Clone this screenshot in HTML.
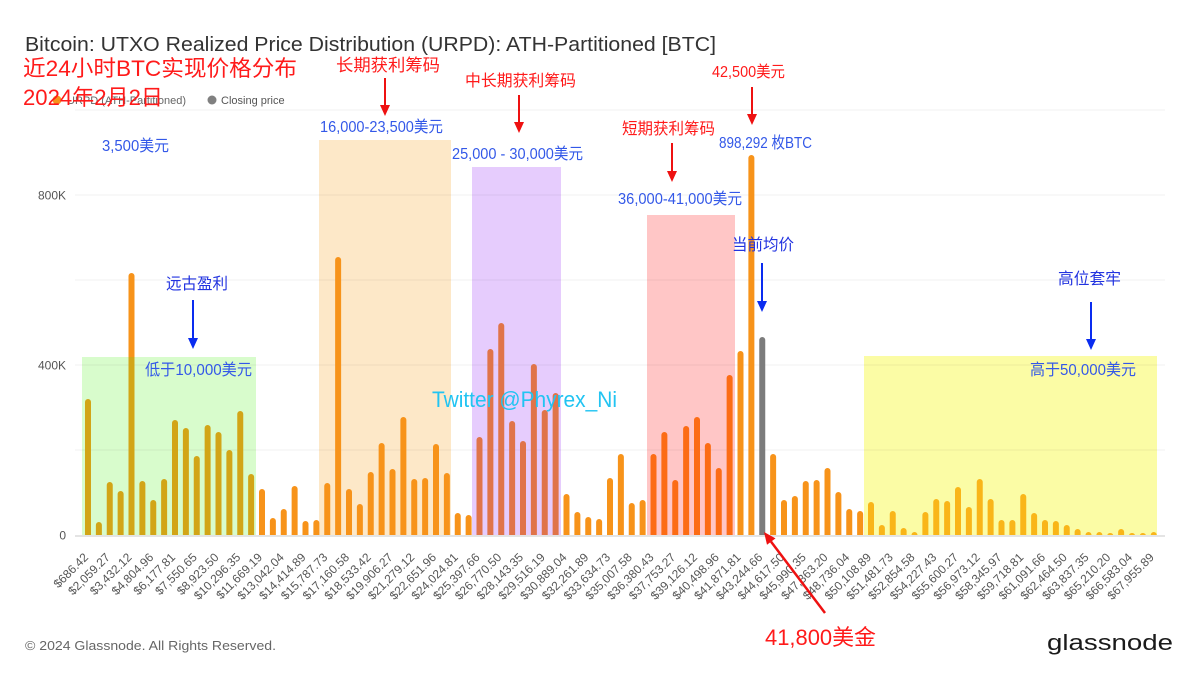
<!DOCTYPE html>
<html><head><meta charset="utf-8"><style>
html,body{margin:0;padding:0;background:#fff;}
svg{display:block;}
.ax{font-family:"Liberation Sans",sans-serif;font-size:12px;fill:#555;}
.cn{font-family:"Liberation Sans","Noto Sans CJK SC",sans-serif;}
</style></head><body>
<svg width="1199" height="675" viewBox="0 0 1199 675" xmlns="http://www.w3.org/2000/svg">
<defs><clipPath id="c"><rect x="0" y="0" width="1199" height="535"/></clipPath></defs>
<rect width="1199" height="675" fill="#fff"/>
<!-- title -->
<text x="25" y="51" font-family="Liberation Sans, sans-serif" font-size="20.5" fill="#333" textLength="691" lengthAdjust="spacingAndGlyphs">Bitcoin: UTXO Realized Price Distribution (URPD): ATH-Partitioned [BTC]</text>
<!-- legend -->
<circle cx="57" cy="100" r="4.5" fill="#f7931a"/>
<text x="67" y="104" font-family="Liberation Sans, sans-serif" font-size="11" fill="#666">URPD (ATH-Partitioned)</text>
<circle cx="212" cy="100" r="4.5" fill="#808080"/>
<text x="221" y="104" font-family="Liberation Sans, sans-serif" font-size="11" fill="#555">Closing price</text>
<!-- region backgrounds -->
<rect x="82" y="357" width="174" height="178" fill="#d8fccc"/>
<rect x="319" y="140" width="132" height="395" fill="#fde8c8"/>
<rect x="472" y="167" width="89" height="368" fill="#e6ccfd"/>
<rect x="647" y="215" width="88" height="320" fill="#ffc6c6"/>
<rect x="864" y="356" width="293" height="179" fill="#fbfca5"/>
<!-- grid -->
<g stroke="#000" stroke-opacity="0.06" stroke-width="1">
<line x1="75" y1="110" x2="1165" y2="110"/>
<line x1="75" y1="195" x2="1165" y2="195"/>
<line x1="75" y1="280" x2="1165" y2="280"/>
<line x1="75" y1="365" x2="1165" y2="365"/>
<line x1="75" y1="450" x2="1165" y2="450"/>
</g>
<line x1="75" y1="536" x2="1165" y2="536" stroke="#e4e4e4" stroke-width="2"/>
<!-- y labels -->
<text class="ax" x="66" y="199.5" text-anchor="end">800K</text>
<text class="ax" x="66" y="369.5" text-anchor="end">400K</text>
<text class="ax" x="66" y="539.5" text-anchor="end">0</text>
<!-- bars -->
<g clip-path="url(#c)">
<g fill="#d2a517">
<rect x="85" y="399" width="6" height="139" rx="3"/>
<rect x="95.875" y="522" width="6" height="16" rx="3"/>
<rect x="106.75" y="482" width="6" height="56" rx="3"/>
<rect x="117.625" y="491" width="6" height="47" rx="3"/>
<rect x="139.375" y="481" width="6" height="57" rx="3"/>
<rect x="150.25" y="500" width="6" height="38" rx="3"/>
<rect x="161.125" y="479" width="6" height="59" rx="3"/>
<rect x="172" y="420" width="6" height="118" rx="3"/>
<rect x="182.875" y="428" width="6" height="110" rx="3"/>
<rect x="193.75" y="456" width="6" height="82" rx="3"/>
<rect x="204.625" y="425" width="6" height="113" rx="3"/>
<rect x="215.5" y="432" width="6" height="106" rx="3"/>
<rect x="226.375" y="450" width="6" height="88" rx="3"/>
<rect x="237.25" y="411" width="6" height="127" rx="3"/>
<rect x="248.125" y="474" width="6" height="64" rx="3"/>
</g>
<rect x="128.5" y="273" width="6" height="265" rx="3" fill="#f7931a"/>
<rect x="128.5" y="357" width="6" height="181" fill="#d2a517"/>
<g fill="#f7931a">
<rect x="259" y="489" width="6" height="49" rx="3"/>
<rect x="269.875" y="518" width="6" height="20" rx="3"/>
<rect x="280.75" y="509" width="6" height="29" rx="3"/>
<rect x="291.625" y="486" width="6" height="52" rx="3"/>
<rect x="302.5" y="521" width="6" height="17" rx="3"/>
<rect x="313.375" y="520" width="6" height="18" rx="3"/>
<rect x="324.25" y="483" width="6" height="55" rx="3"/>
<rect x="335.125" y="257" width="6" height="281" rx="3"/>
<rect x="346" y="489" width="6" height="49" rx="3"/>
<rect x="356.875" y="504" width="6" height="34" rx="3"/>
<rect x="367.75" y="472" width="6" height="66" rx="3"/>
<rect x="378.625" y="443" width="6" height="95" rx="3"/>
<rect x="389.5" y="469" width="6" height="69" rx="3"/>
<rect x="400.375" y="417" width="6" height="121" rx="3"/>
<rect x="411.25" y="479" width="6" height="59" rx="3"/>
<rect x="422.125" y="478" width="6" height="60" rx="3"/>
<rect x="433" y="444" width="6" height="94" rx="3"/>
<rect x="443.875" y="473" width="6" height="65" rx="3"/>
<rect x="454.75" y="513" width="6" height="25" rx="3"/>
<rect x="465.625" y="515" width="6" height="23" rx="3"/>
<rect x="563.5" y="494" width="6" height="44" rx="3"/>
<rect x="574.375" y="512" width="6" height="26" rx="3"/>
<rect x="585.25" y="517" width="6" height="21" rx="3"/>
<rect x="596.125" y="519" width="6" height="19" rx="3"/>
<rect x="607" y="478" width="6" height="60" rx="3"/>
<rect x="617.875" y="454" width="6" height="84" rx="3"/>
<rect x="628.75" y="503" width="6" height="35" rx="3"/>
<rect x="639.625" y="500" width="6" height="38" rx="3"/>
<rect x="737.5" y="351" width="6" height="187" rx="3"/>
<rect x="748.375" y="155" width="6" height="383" rx="3"/>
<rect x="770.125" y="454" width="6" height="84" rx="3"/>
<rect x="781" y="500" width="6" height="38" rx="3"/>
<rect x="791.875" y="496" width="6" height="42" rx="3"/>
<rect x="802.75" y="481" width="6" height="57" rx="3"/>
<rect x="813.625" y="480" width="6" height="58" rx="3"/>
<rect x="824.5" y="468" width="6" height="70" rx="3"/>
<rect x="835.375" y="492" width="6" height="46" rx="3"/>
<rect x="846.25" y="509" width="6" height="29" rx="3"/>
<rect x="857.125" y="511" width="6" height="27" rx="3"/>
</g>
<g fill="#e0744a">
<rect x="476.5" y="437" width="6" height="101" rx="3"/>
<rect x="487.375" y="349" width="6" height="189" rx="3"/>
<rect x="498.25" y="323" width="6" height="215" rx="3"/>
<rect x="509.125" y="421" width="6" height="117" rx="3"/>
<rect x="520" y="441" width="6" height="97" rx="3"/>
<rect x="530.875" y="364" width="6" height="174" rx="3"/>
<rect x="541.75" y="410" width="6" height="128" rx="3"/>
<rect x="552.625" y="393" width="6" height="145" rx="3"/>
</g>
<g fill="#fc6c15">
<rect x="650.5" y="454" width="6" height="84" rx="3"/>
<rect x="661.375" y="432" width="6" height="106" rx="3"/>
<rect x="672.25" y="480" width="6" height="58" rx="3"/>
<rect x="683.125" y="426" width="6" height="112" rx="3"/>
<rect x="694" y="417" width="6" height="121" rx="3"/>
<rect x="704.875" y="443" width="6" height="95" rx="3"/>
<rect x="715.75" y="468" width="6" height="70" rx="3"/>
<rect x="726.625" y="375" width="6" height="163" rx="3"/>
</g>
<rect x="759.25" y="337" width="6" height="201" rx="3" fill="#7c7c7c"/>
<g fill="#f9b519">
<rect x="868" y="502" width="6" height="36" rx="3"/>
<rect x="878.875" y="525" width="6" height="13" rx="3"/>
<rect x="889.75" y="511" width="6" height="27" rx="3"/>
<rect x="900.625" y="528" width="6" height="10" rx="3"/>
<rect x="911.5" y="532" width="6" height="6" rx="3"/>
<rect x="922.375" y="512" width="6" height="26" rx="3"/>
<rect x="933.25" y="499" width="6" height="39" rx="3"/>
<rect x="944.125" y="501" width="6" height="37" rx="3"/>
<rect x="955" y="487" width="6" height="51" rx="3"/>
<rect x="965.875" y="507" width="6" height="31" rx="3"/>
<rect x="976.75" y="479" width="6" height="59" rx="3"/>
<rect x="987.625" y="499" width="6" height="39" rx="3"/>
<rect x="998.5" y="520" width="6" height="18" rx="3"/>
<rect x="1009.375" y="520" width="6" height="18" rx="3"/>
<rect x="1020.25" y="494" width="6" height="44" rx="3"/>
<rect x="1031.125" y="513" width="6" height="25" rx="3"/>
<rect x="1042" y="520" width="6" height="18" rx="3"/>
<rect x="1052.875" y="521" width="6" height="17" rx="3"/>
<rect x="1063.75" y="525" width="6" height="13" rx="3"/>
<rect x="1074.625" y="529" width="6" height="9" rx="3"/>
<rect x="1085.5" y="532" width="6" height="6" rx="3"/>
<rect x="1096.375" y="532" width="6" height="6" rx="3"/>
<rect x="1107.25" y="533" width="6" height="5" rx="3"/>
<rect x="1118.125" y="529" width="6" height="9" rx="3"/>
<rect x="1129" y="533" width="6" height="5" rx="3"/>
<rect x="1139.875" y="533" width="6" height="5" rx="3"/>
<rect x="1150.75" y="532" width="6" height="6" rx="3"/>
</g>
</g>
<!-- x labels -->
<g class="ax" text-anchor="end">
<text transform="translate(89,558) rotate(-45)">$686.42</text>
<text transform="translate(110.75,558) rotate(-45)">$2,059.27</text>
<text transform="translate(132.5,558) rotate(-45)">$3,432.12</text>
<text transform="translate(154.25,558) rotate(-45)">$4,804.96</text>
<text transform="translate(176,558) rotate(-45)">$6,177.81</text>
<text transform="translate(197.75,558) rotate(-45)">$7,550.65</text>
<text transform="translate(219.5,558) rotate(-45)">$8,923.50</text>
<text transform="translate(241.25,558) rotate(-45)">$10,296.35</text>
<text transform="translate(263,558) rotate(-45)">$11,669.19</text>
<text transform="translate(284.75,558) rotate(-45)">$13,042.04</text>
<text transform="translate(306.5,558) rotate(-45)">$14,414.89</text>
<text transform="translate(328.25,558) rotate(-45)">$15,787.73</text>
<text transform="translate(350,558) rotate(-45)">$17,160.58</text>
<text transform="translate(371.75,558) rotate(-45)">$18,533.42</text>
<text transform="translate(393.5,558) rotate(-45)">$19,906.27</text>
<text transform="translate(415.25,558) rotate(-45)">$21,279.12</text>
<text transform="translate(437,558) rotate(-45)">$22,651.96</text>
<text transform="translate(458.75,558) rotate(-45)">$24,024.81</text>
<text transform="translate(480.5,558) rotate(-45)">$25,397.66</text>
<text transform="translate(502.25,558) rotate(-45)">$26,770.50</text>
<text transform="translate(524,558) rotate(-45)">$28,143.35</text>
<text transform="translate(545.75,558) rotate(-45)">$29,516.19</text>
<text transform="translate(567.5,558) rotate(-45)">$30,889.04</text>
<text transform="translate(589.25,558) rotate(-45)">$32,261.89</text>
<text transform="translate(611,558) rotate(-45)">$33,634.73</text>
<text transform="translate(632.75,558) rotate(-45)">$35,007.58</text>
<text transform="translate(654.5,558) rotate(-45)">$36,380.43</text>
<text transform="translate(676.25,558) rotate(-45)">$37,753.27</text>
<text transform="translate(698,558) rotate(-45)">$39,126.12</text>
<text transform="translate(719.75,558) rotate(-45)">$40,498.96</text>
<text transform="translate(741.5,558) rotate(-45)">$41,871.81</text>
<text transform="translate(763.25,558) rotate(-45)">$43,244.66</text>
<text transform="translate(785,558) rotate(-45)">$44,617.50</text>
<text transform="translate(806.75,558) rotate(-45)">$45,990.35</text>
<text transform="translate(828.5,558) rotate(-45)">$47,363.20</text>
<text transform="translate(850.25,558) rotate(-45)">$48,736.04</text>
<text transform="translate(872,558) rotate(-45)">$50,108.89</text>
<text transform="translate(893.75,558) rotate(-45)">$51,481.73</text>
<text transform="translate(915.5,558) rotate(-45)">$52,854.58</text>
<text transform="translate(937.25,558) rotate(-45)">$54,227.43</text>
<text transform="translate(959,558) rotate(-45)">$55,600.27</text>
<text transform="translate(980.75,558) rotate(-45)">$56,973.12</text>
<text transform="translate(1002.5,558) rotate(-45)">$58,345.97</text>
<text transform="translate(1024.25,558) rotate(-45)">$59,718.81</text>
<text transform="translate(1046,558) rotate(-45)">$61,091.66</text>
<text transform="translate(1067.75,558) rotate(-45)">$62,464.50</text>
<text transform="translate(1089.5,558) rotate(-45)">$63,837.35</text>
<text transform="translate(1111.25,558) rotate(-45)">$65,210.20</text>
<text transform="translate(1133,558) rotate(-45)">$66,583.04</text>
<text transform="translate(1154.75,558) rotate(-45)">$67,955.89</text>
</g>
<!-- annotations red -->
<g class="cn" fill="#ff1a1a">
<text x="23" y="76" font-size="22" textLength="274" lengthAdjust="spacingAndGlyphs">近24小时BTC实现价格分布</text>
<text x="23" y="105" font-size="22" textLength="140" lengthAdjust="spacingAndGlyphs">2024年2月2日</text>
<text x="336" y="71" font-size="17" textLength="104" lengthAdjust="spacingAndGlyphs">长期获利筹码</text>
<text x="465" y="86" font-size="16" textLength="111" lengthAdjust="spacingAndGlyphs">中长期获利筹码</text>
<text x="622" y="134" font-size="16" textLength="93" lengthAdjust="spacingAndGlyphs">短期获利筹码</text>
<text x="712" y="77" font-size="16" textLength="73" lengthAdjust="spacingAndGlyphs">42,500美元</text>
<text x="765" y="645" font-size="22" textLength="111" lengthAdjust="spacingAndGlyphs">41,800美金</text>
</g>
<!-- red arrows -->
<g stroke="#ee1111" stroke-width="2" fill="#ee1111">
<line x1="385" y1="78" x2="385" y2="106"/><polygon points="380,105 390,105 385,116" stroke="none"/>
<line x1="519" y1="95" x2="519" y2="123"/><polygon points="514,122 524,122 519,133" stroke="none"/>
<line x1="672" y1="143" x2="672" y2="172"/><polygon points="667,171 677,171 672,182" stroke="none"/>
<line x1="752" y1="87" x2="752" y2="115"/><polygon points="747,114 757,114 752,125" stroke="none"/>
<line x1="825" y1="613" x2="771" y2="541.6" stroke-width="2.5"/><polygon points="764,532 775.5,538.4 767,544.8" stroke="none"/>
</g>
<!-- annotations blue -->
<g class="cn" fill="#3358e8">
<text x="320" y="132" font-size="16" textLength="123" lengthAdjust="spacingAndGlyphs">16,000-23,500美元</text>
<text x="452" y="159" font-size="16" textLength="131" lengthAdjust="spacingAndGlyphs">25,000 - 30,000美元</text>
<text x="618" y="204" font-size="16" textLength="124" lengthAdjust="spacingAndGlyphs">36,000-41,000美元</text>
<text x="719" y="148" font-size="16" textLength="93" lengthAdjust="spacingAndGlyphs">898,292 枚BTC</text>
<text x="102" y="151" font-size="16" textLength="67" lengthAdjust="spacingAndGlyphs">3,500美元</text>
<text x="145" y="375" font-size="16" textLength="107" lengthAdjust="spacingAndGlyphs">低于10,000美元</text>
<text x="1030" y="375" font-size="16" textLength="106" lengthAdjust="spacingAndGlyphs">高于50,000美元</text>
</g>
<g class="cn" fill="#2233e0">
<text x="166" y="289" font-size="16" textLength="62" lengthAdjust="spacingAndGlyphs">远古盈利</text>
<text x="732" y="250" font-size="16" textLength="62" lengthAdjust="spacingAndGlyphs">当前均价</text>
<text x="1058" y="284" font-size="16" textLength="63" lengthAdjust="spacingAndGlyphs">高位套牢</text>
</g>
<g stroke="#0a2cf0" stroke-width="2" fill="#0a2cf0">
<line x1="193" y1="300" x2="193" y2="339"/><polygon points="188,338 198,338 193,349" stroke="none"/>
<line x1="762" y1="263" x2="762" y2="302"/><polygon points="757,301 767,301 762,312" stroke="none"/>
<line x1="1091" y1="302" x2="1091" y2="340"/><polygon points="1086,339 1096,339 1091,350" stroke="none"/>
</g>
<text class="cn" x="432" y="407" font-size="22" fill="#22c4f2" textLength="185" lengthAdjust="spacingAndGlyphs">Twitter @Phyrex_Ni</text>
<!-- footer -->
<text x="25" y="650" font-family="Liberation Sans, sans-serif" font-size="13" fill="#666" textLength="251" lengthAdjust="spacingAndGlyphs">© 2024 Glassnode. All Rights Reserved.</text>
<text x="1047" y="650" font-family="Liberation Sans, sans-serif" font-size="22" fill="#1a1a1a" textLength="126" lengthAdjust="spacingAndGlyphs">glassnode</text>
</svg>
</body></html>
